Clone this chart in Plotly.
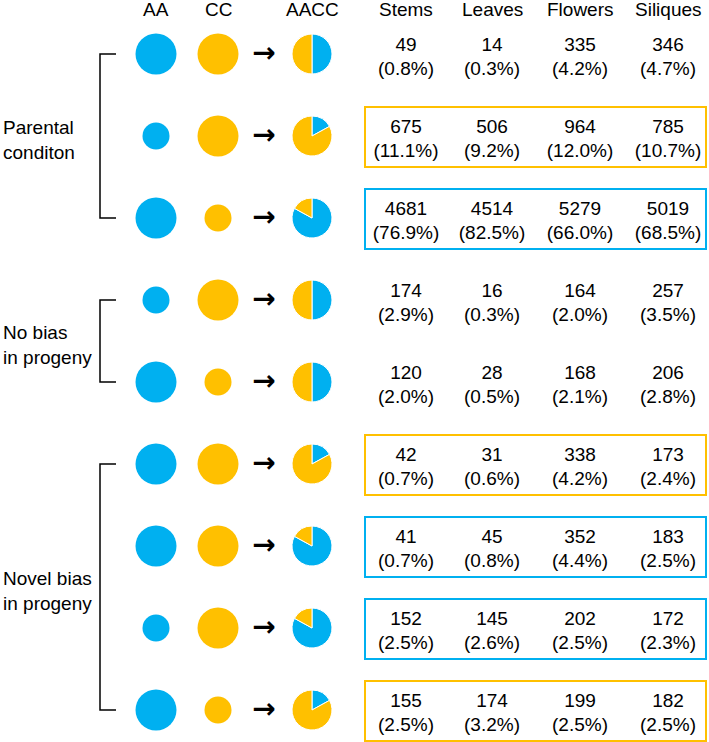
import plotly.graph_objects as go

W, H = 709, 742

# ---- data ----
tissues = ["Stems", "Leaves", "Flowers", "Siliques"]
counts = {
    "Stems":    [49, 675, 4681, 174, 120, 42, 41, 152, 155],
    "Leaves":   [14, 506, 4514, 16, 28, 31, 45, 145, 174],
    "Flowers":  [335, 964, 5279, 164, 168, 338, 352, 202, 199],
    "Siliques": [346, 785, 5019, 257, 206, 173, 183, 172, 182],
}
percents = {
    "Stems":    [0.8, 11.1, 76.9, 2.9, 2.0, 0.7, 0.7, 2.5, 2.5],
    "Leaves":   [0.3, 9.2, 82.5, 0.3, 0.5, 0.6, 0.8, 2.6, 3.2],
    "Flowers":  [4.2, 12.0, 66.0, 2.0, 2.1, 4.2, 4.4, 2.5, 2.5],
    "Siliques": [4.7, 10.7, 68.5, 3.5, 2.8, 2.4, 2.5, 2.3, 2.5],
}
# relative expression level of the AA and CC parents (1 = high, 0 = low)
aa_level = [1, 0, 1, 0, 1, 1, 1, 0, 1]
cc_level = [1, 1, 0, 1, 0, 1, 1, 1, 0]
# share of A-subgenome in the AACC progeny
aacc_a_share = [0.5, 0.17, 0.83, 0.5, 0.5, 0.17, 0.83, 0.83, 0.17]
# box highlight per row
box_kind = [None, "C", "A", None, None, "C", "A", "A", "C"]
groups = [("Parental<br>conditon", 0, 2), ("No bias<br>in progeny", 3, 4),
          ("Novel bias<br>in progeny", 5, 8)]
col_headers = ["AA", "CC", "AACC"]

# ---- style / layout ----
BLUE = "#00B0F0"
YELLOW = "#FFC000"
FONT = "Liberation Sans, Arial, sans-serif"
FS = 19
row_y0, row_dy = 54, 82
rows_y = [row_y0 + i * row_dy for i in range(len(aa_level))]
x_aa, x_cc, x_arrow, x_aacc = 156, 218, 264, 312
tissue_x = [406, 492, 580, 668]
big_d, small_d = 41, 27
pie_r = 20

fig = go.Figure()

# parental circles
fig.add_trace(go.Scatter(
    x=[x_aa] * len(rows_y), y=rows_y, mode="markers",
    marker=dict(color=BLUE, opacity=1, size=[big_d if v else small_d for v in aa_level],
                line=dict(width=0)),
    hoverinfo="skip", showlegend=False))
fig.add_trace(go.Scatter(
    x=[x_cc] * len(rows_y), y=rows_y, mode="markers",
    marker=dict(color=YELLOW, opacity=1, size=[big_d if v else small_d for v in cc_level],
                line=dict(width=0)),
    hoverinfo="skip", showlegend=False))

# arrows
fig.add_trace(go.Scatter(
    x=[x_arrow] * len(rows_y), y=[y + 1 for y in rows_y], mode="text",
    text=["<b>→</b>"] * len(rows_y),
    textfont=dict(family="DejaVu Sans", size=28, color="black"),
    hoverinfo="skip", showlegend=False))

# progeny pies
for y, a in zip(rows_y, aacc_a_share):
    fig.add_trace(go.Pie(
        values=[a, 1 - a], sort=False, direction="clockwise", rotation=0,
        marker=dict(colors=[BLUE, YELLOW], line=dict(color="white", width=1)),
        textinfo="none", hoverinfo="skip", showlegend=False,
        domain=dict(x=[(x_aacc - pie_r) / W, (x_aacc + pie_r) / W],
                    y=[1 - (y + pie_r) / H, 1 - (y - pie_r) / H])))

# table text
for t, tx in zip(tissues, tissue_x):
    fig.add_trace(go.Scatter(
        x=[tx] * len(rows_y), y=[y - 8 for y in rows_y], mode="text",
        text=[str(c) for c in counts[t]],
        textfont=dict(family=FONT, size=FS, color="black"),
        hoverinfo="skip", showlegend=False))
    fig.add_trace(go.Scatter(
        x=[tx] * len(rows_y), y=[y + 16 for y in rows_y], mode="text",
        text=["(%.1f%%)" % p for p in percents[t]],
        textfont=dict(family=FONT, size=FS, color="black"),
        hoverinfo="skip", showlegend=False))

shapes = []
# highlight boxes
for y, k in zip(rows_y, box_kind):
    if k is None:
        continue
    shapes.append(dict(type="rect", xref="x", yref="y", x0=365, x1=706,
                       y0=y - 29, y1=y + 31,
                       line=dict(color=BLUE if k == "A" else YELLOW, width=2)))

annotations = []
# headers
for h, hx in zip(col_headers + tissues, [x_aa, x_cc, x_aacc] + tissue_x):
    annotations.append(dict(x=hx, y=9, xref="x", yref="y", text=h, showarrow=False,
                            font=dict(family=FONT, size=FS, color="black"),
                            xanchor="center", yanchor="middle"))
# group brackets + labels
for label, i0, i1 in groups:
    y0, y1 = rows_y[i0], rows_y[i1]
    shapes.append(dict(type="path", xref="x", yref="y",
                       path=f"M 116 {y0} L 100 {y0} L 100 {y1} L 116 {y1}",
                       line=dict(color="black", width=1.5)))
    annotations.append(dict(x=1, y=(y0 + y1) / 2 + 4, xref="x", yref="y", text=label,
                            showarrow=False, align="left", xanchor="left", yanchor="middle",
                            font=dict(family=FONT, size=FS, color="black")))

fig.update_layout(
    width=W, height=H, margin=dict(l=0, r=0, t=0, b=0),
    paper_bgcolor="white", plot_bgcolor="white",
    xaxis=dict(range=[0, W], visible=False, fixedrange=True),
    yaxis=dict(range=[H, 0], visible=False, fixedrange=True),
    shapes=shapes, annotations=annotations, showlegend=False)

fig.write_html("out.html", config={"displayModeBar": False},
               post_script="document.body.style.margin='0';document.body.style.overflow='hidden';")
